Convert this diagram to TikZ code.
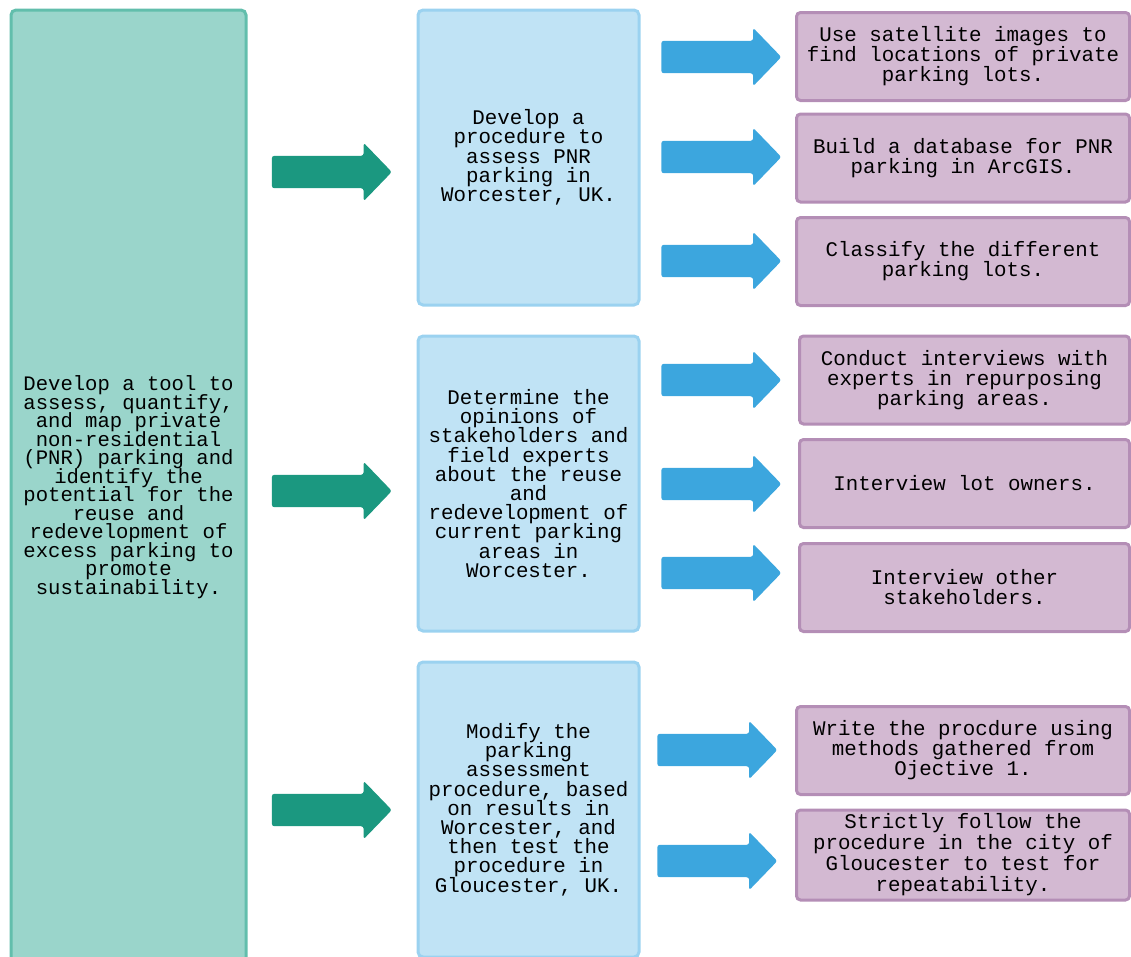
\documentclass[tikz,border=0pt]{standalone}
\usepackage{fontspec}
\usepackage{tikz}
\usepackage{xcolor}
\usetikzlibrary{shapes.arrows}
\setmonofont{Liberation Mono}
\newcommand\tightlines{\lineskiplimit=-20pt\relax}
\definecolor{goalfill}{HTML}{9AD5CB}
\definecolor{goalline}{HTML}{62BEAC}
\definecolor{goalarrow}{HTML}{1B9880}
\definecolor{aimfill}{HTML}{C0E3F5}
\definecolor{aimline}{HTML}{9BD2F0}
\definecolor{aimarrow}{HTML}{3CA6DE}
\definecolor{taskfill}{HTML}{D3B9D2}
\definecolor{taskline}{HTML}{B48EB6}

\begin{document}
\begin{tikzpicture}%
  [x=1pt,y=-1pt,
   big arrow/.style={single arrow,draw=none,minimum height=120pt,minimum width=58pt,
     inner xsep=0pt,inner ysep=16pt,single arrow head extend=13pt,
     single arrow tip angle=92,rounded corners=2.5pt}]
  \tikzstyle{goal node}=[rectangle,rounded corners=5pt,fill=goalfill,draw=goalline,
    line width=3pt,align=center,minimum width=235pt,minimum height=954pt,
    font=\ttfamily\fontsize{20.6}{18.5}\selectfont\tightlines]
  \tikzstyle{aim node}=[rectangle,rounded corners=5pt,fill=aimfill,draw=aimline,
    line width=3pt,align=center,minimum width=221pt,minimum height=295pt,
    font=\ttfamily\fontsize{20.8}{19.2}\selectfont\tightlines]
  \tikzstyle{task node}=[rectangle,rounded corners=4pt,fill=taskfill,draw=taskline,
    line width=3pt,align=center,minimum width=333pt,minimum height=88pt,
    font=\ttfamily\fontsize{20.8}{20}\selectfont\tightlines]
  \clip (0,0) rectangle (1131,956);
  \node(goal)[goal node] at (128.5,487)
    {Develop a tool to\\assess, quantify,\\and map private\\non-residential\\(PNR) parking and\\identify the\\potential for the\\reuse and\\redevelopment of\\excess parking to\\promote\\sustainability.};
  \node(aim1)[aim node] at (528.5,157.5)
    {Develop a\\procedure to\\assess PNR\\parking in\\Worcester, UK.};
  \node(aim2)[aim node] at (528.5,483.5)
    {Determine the\\opinions of\\stakeholders and\\field experts\\about the reuse\\and\\redevelopment of\\current parking\\areas in\\Worcester.};
  \node(aim3)[aim node] at (528.5,809.5)
    {Modify the\\parking\\assessment\\procedure, based\\on results in\\Worcester, and\\then test the\\procedure in\\Gloucester, UK.};
  \node(task1)[task node] at (963,56.5)
    {Use satellite images to\\find locations of private\\parking lots.};
  \node(task2)[task node] at (963,158)
    {Build a database for PNR\\parking in ArcGIS.};
  \node(task3)[task node] at (963,261.5)
    {Classify the different\\parking lots.};
  \node(task4)[task node,minimum width=330pt] at (964.5,380)
    {Conduct interviews with\\experts in repurposing\\parking areas.};
  \node(task5)[task node,minimum width=330pt] at (964.5,483.5)
    {Interview lot owners.};
  \node(task6)[task node,minimum width=330pt] at (964.5,587.5)
    {Interview other\\stakeholders.};
  \node(task7)[task node] at (963,750.5)
    {Write the procdure using\\methods gathered from\\Ojective 1.};
  \node(task8)[task node,minimum height=90pt,font=\ttfamily\fontsize{20.8}{21}\selectfont\tightlines] at (963,855)
    {Strictly follow the\\procedure in the city of\\Gloucester to test for\\repeatability.};
  \node(g1)[big arrow,fill=goalarrow] at (324,172) {};
  \node(g2)[big arrow,fill=goalarrow] at (324,491) {};
  \node(g3)[big arrow,fill=goalarrow] at (324,810) {};
  \node(b1)[big arrow,fill=aimarrow] at (713.5,57) {};
  \node(b2)[big arrow,fill=aimarrow] at (713.5,157) {};
  \node(b3)[big arrow,fill=aimarrow] at (713.5,261) {};
  \node(b4)[big arrow,fill=aimarrow] at (713.5,380) {};
  \node(b5)[big arrow,fill=aimarrow] at (713.5,484) {};
  \node(b6)[big arrow,fill=aimarrow] at (713.5,573) {};
  \node(b7)[big arrow,fill=aimarrow] at (709.5,750) {};
  \node(b8)[big arrow,fill=aimarrow] at (709.5,861) {};
\end{tikzpicture}
\end{document}
